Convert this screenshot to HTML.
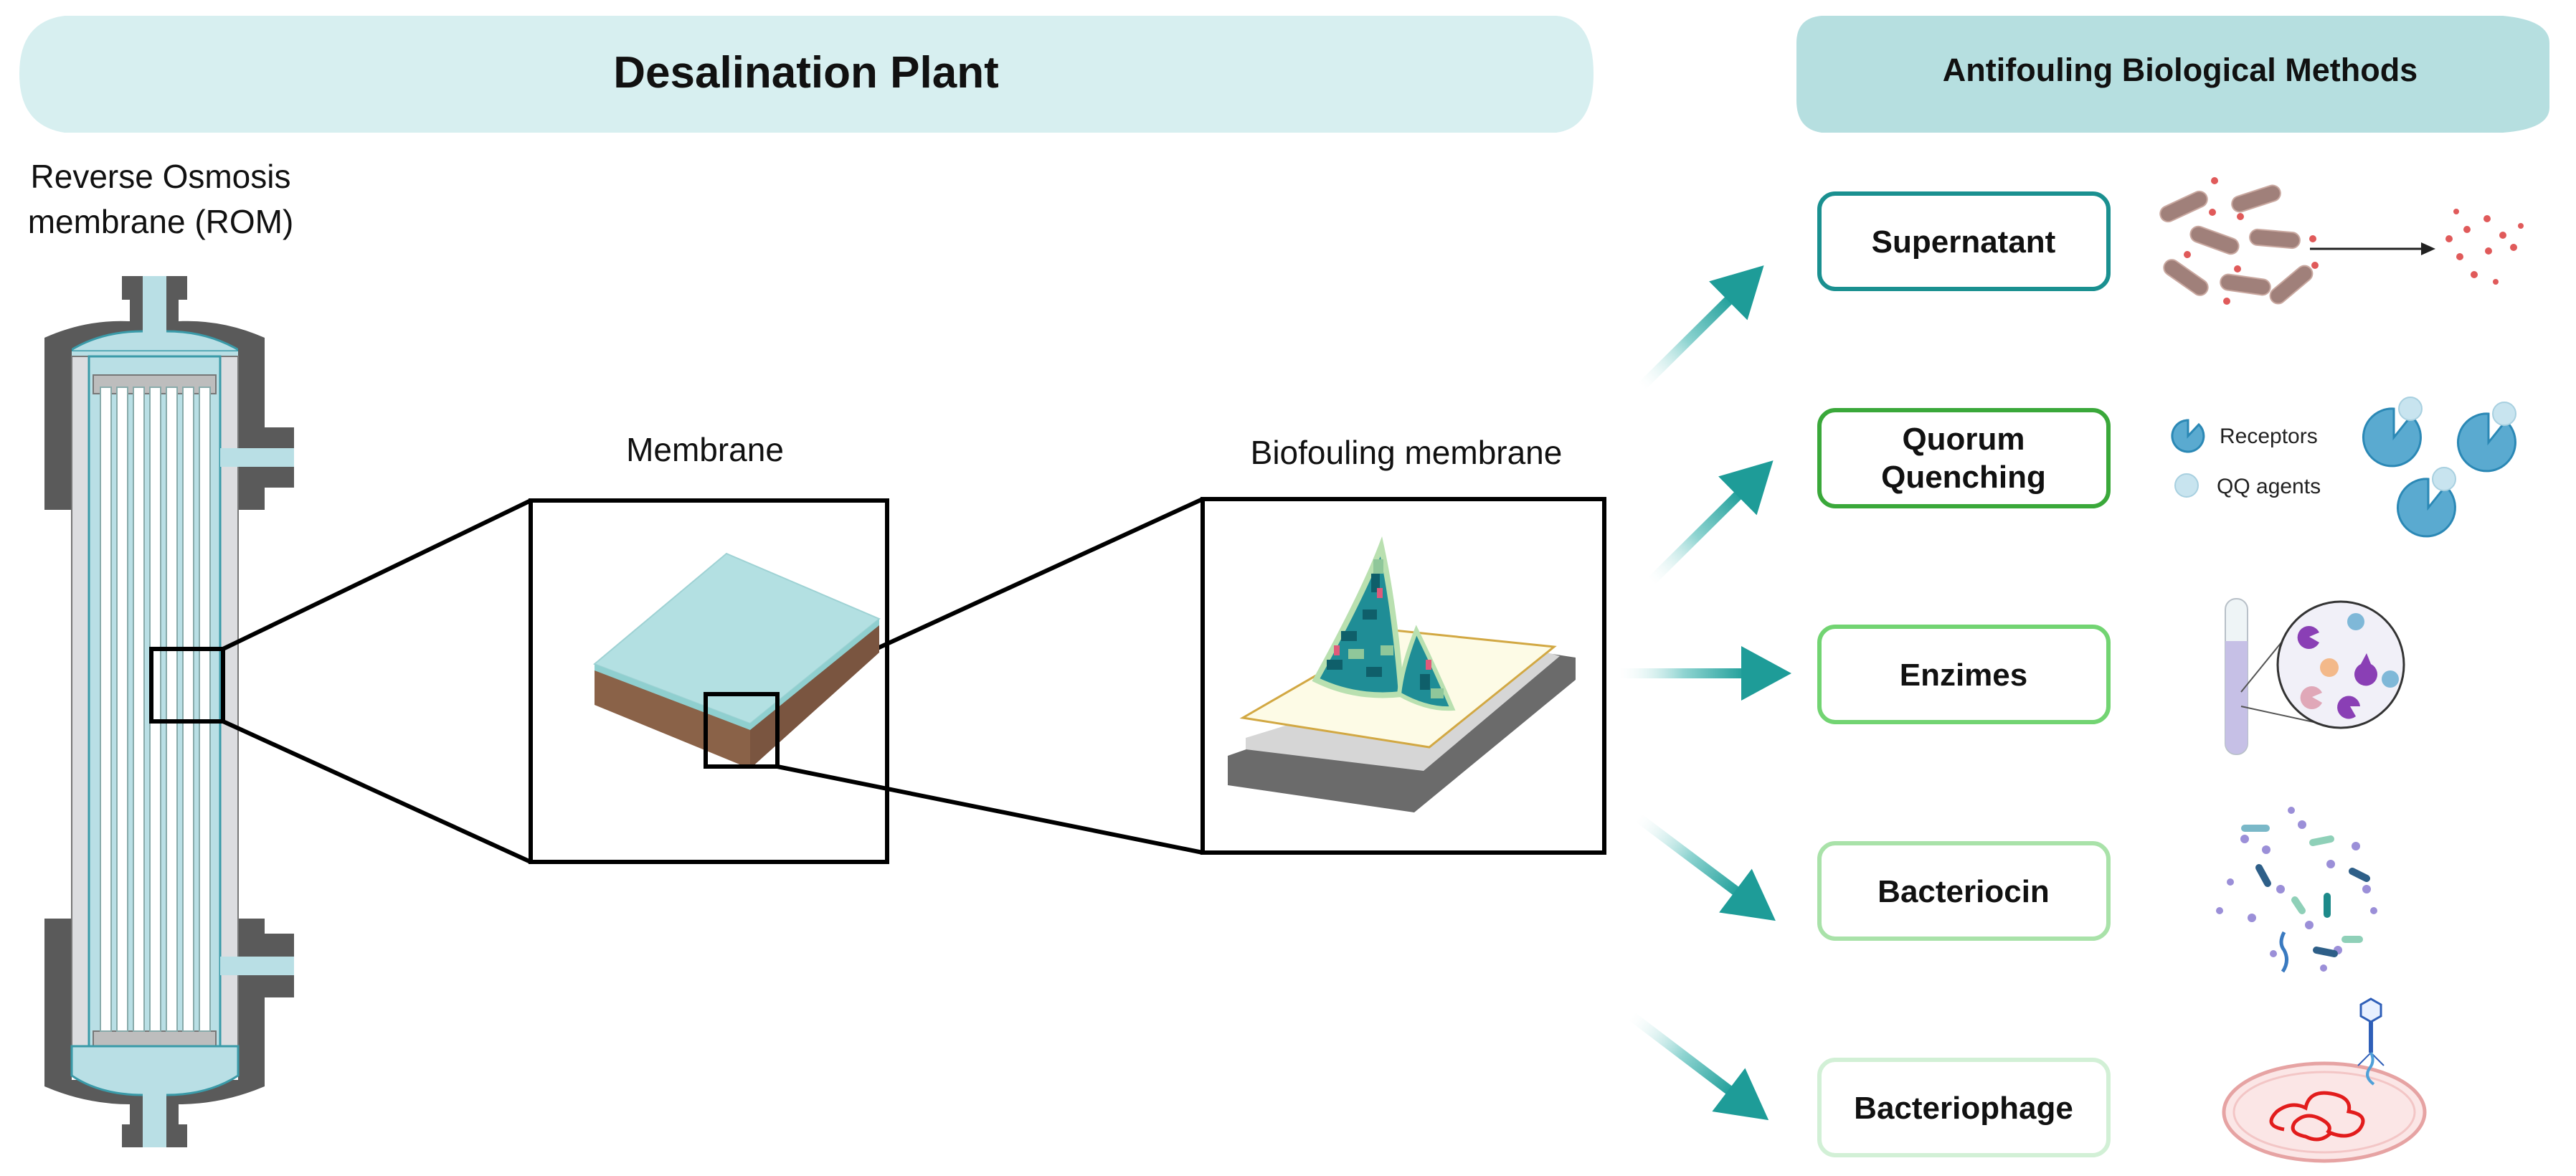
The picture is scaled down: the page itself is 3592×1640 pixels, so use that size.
<!DOCTYPE html>
<html><head><meta charset="utf-8">
<style>
html,body{margin:0;padding:0;background:#fff;}
svg{display:block;}
text{font-family:"Liberation Sans",sans-serif;}
</style></head>
<body>
<svg width="3592" height="1640" viewBox="0 0 3592 1640" xmlns="http://www.w3.org/2000/svg">
<defs>
<linearGradient id="ag" x1="0" y1="0" x2="1" y2="0">
<stop offset="0" stop-color="#ffffff" stop-opacity="0.2"/>
<stop offset="0.5" stop-color="#8fd4d1"/>
<stop offset="1" stop-color="#1a9c97"/>
</linearGradient>
<g id="arr">
<rect x="0" y="-7" width="180" height="14" fill="url(#ag)"/>
<polygon points="240,0 170,-38 170,38" fill="#1e9c98"/>
</g>
</defs>

<!-- Headers -->
<path d="M90,22 L2170,22 Q2222,26 2222,103 Q2222,178 2170,185 L90,185 Q27,175 27,103 Q27,30 90,22 Z" fill="#d7eff0"/>
<text x="1124" y="122" font-size="62" font-weight="bold" text-anchor="middle" fill="#111">Desalination Plant</text>
<path d="M2540,22 L3490,22 Q3555,28 3555,60 L3555,150 Q3555,180 3490,185 L2540,185 Q2505,180 2505,140 L2505,60 Q2505,25 2540,22 Z" fill="#b6dfe0"/>
<text x="3040" y="113" font-size="45" font-weight="bold" text-anchor="middle" fill="#111">Antifouling Biological Methods</text>

<!-- ROM label -->
<text x="224" y="262" font-size="46" text-anchor="middle" fill="#111">Reverse Osmosis</text>
<text x="224" y="325" font-size="46" text-anchor="middle" fill="#111">membrane (ROM)</text>

<!-- Column -->
<g>
<rect x="170" y="385" width="91" height="33" fill="#5a5a5a"/>
<rect x="181" y="418" width="68" height="35" fill="#5a5a5a"/>
<path d="M62,486 L62,471 Q120,445 181,448 L249,448 Q310,445 369,471 L369,486 Z" fill="#5a5a5a"/>
<path d="M96,490 Q140,462 199,462 L232,462 Q290,462 336,490 Z" fill="#b9dfe5" stroke="#3a9aa8" stroke-width="3"/>
<rect x="199" y="385" width="33" height="80" fill="#b9dfe5"/>
<rect x="62" y="486" width="38" height="225" fill="#5a5a5a"/>
<rect x="332" y="486" width="37" height="225" fill="#5a5a5a"/>
<rect x="369" y="596" width="41" height="84" fill="#5a5a5a"/>
<rect x="62" y="1281" width="38" height="225" fill="#5a5a5a"/>
<rect x="332" y="1281" width="37" height="225" fill="#5a5a5a"/>
<rect x="369" y="1302" width="41" height="89" fill="#5a5a5a"/>
<rect x="100" y="490" width="232" height="1010" fill="#b9dfe5"/>
<rect x="100" y="497" width="24" height="988" fill="#dcdde0" stroke="#777" stroke-width="2"/>
<rect x="307" y="497" width="25" height="988" fill="#dcdde0" stroke="#777" stroke-width="2"/>
<rect x="124" y="497" width="183" height="988" fill="#b9dfe5" stroke="#3a9aa8" stroke-width="3"/>
<rect x="307" y="625" width="103" height="26" fill="#b9dfe5"/>
<rect x="307" y="1334" width="103" height="26" fill="#b9dfe5"/>
<rect x="130" y="523" width="171" height="26" fill="#bdbdbd" stroke="#777" stroke-width="2"/>
<rect x="130" y="1438" width="171" height="21" fill="#bdbdbd" stroke="#777" stroke-width="2"/>
<g fill="#ffffff" stroke="#8aa" stroke-width="2">
<rect x="140" y="540" width="15" height="898"/>
<rect x="163" y="540" width="15" height="898"/>
<rect x="186" y="540" width="15" height="898"/>
<rect x="209" y="540" width="15" height="898"/>
<rect x="232" y="540" width="15" height="898"/>
<rect x="255" y="540" width="15" height="898"/>
<rect x="278" y="540" width="15" height="898"/>
</g>
<path d="M62,1506 L62,1515 Q120,1540 181,1540 L249,1540 Q310,1540 369,1515 L369,1506 Z" fill="#5a5a5a"/>
<path d="M100,1459 L332,1459 L332,1500 Q290,1527 232,1527 L199,1527 Q140,1527 100,1500 Z" fill="#b9dfe5" stroke="#3a9aa8" stroke-width="3"/>
<rect x="181" y="1538" width="68" height="30" fill="#5a5a5a"/>
<rect x="170" y="1568" width="91" height="32" fill="#5a5a5a"/>
<rect x="199" y="1520" width="33" height="80" fill="#b9dfe5"/>
<rect x="211" y="905" width="100" height="101" fill="none" stroke="#000" stroke-width="6"/>
</g>

<!-- connector lines -->
<g stroke="#000" stroke-width="6" fill="none">
<line x1="311" y1="905" x2="740" y2="698"/>
<line x1="311" y1="1006" x2="740" y2="1202"/>
<rect x="740" y="698" width="497" height="504"/>
<line x1="1084" y1="968" x2="1677" y2="696"/>
<line x1="1084" y1="1069" x2="1677" y2="1189"/>
<rect x="1677" y="696" width="560" height="493"/>
</g>

<text x="983" y="643" font-size="46" text-anchor="middle" fill="#111">Membrane</text>
<text x="1961" y="647" font-size="46" text-anchor="middle" fill="#111">Biofouling membrane</text>

<!-- membrane slab -->
<path d="M829,926 L1046,1009 L1046,1072 L829,983 Z" fill="#8a6248"/>
<path d="M1046,1009 L1226,863 L1226,910 L1046,1072 Z" fill="#7a5540"/>
<path d="M829,926 L1013,772 L1226,863 L1046,1009 Z" fill="#b3e0e2" stroke="#9fd2d4" stroke-width="2"/>
<path d="M829,926 L1046,1009 L1226,863 L1226,872 L1046,1018 L829,935 Z" fill="#8fcfcf"/>
<rect x="984" y="968" width="100" height="101" fill="none" stroke="#000" stroke-width="6"/>

<!-- biofouling slab -->
<path d="M1712,1054 L2133,907 L2197,917 L2197,948 L1972,1133 L1712,1095 Z" fill="#6b6b6b"/>
<path d="M1737,1029 L2140,905 L2175,915 L1985,1075 L1737,1045 Z" fill="#d6d6d6"/>
<path d="M1733,1001 L1944,879 L2167,902 L1993,1042 Z" fill="#fdfbe6" stroke="#d2a843" stroke-width="3"/>
<path d="M1926,762 Q1900,830 1835,948 Q1890,975 1954,968 Q1945,850 1926,762 Z" fill="#1f8d96" stroke="#b9e0b0" stroke-width="8"/>
<path d="M1975,879 Q1955,930 1951,968 Q1990,990 2025,988 Q2000,930 1975,879 Z" fill="#1f8d96" stroke="#b9e0b0" stroke-width="6"/>
<g fill="#0f5f6a">
<rect x="1870" y="880" width="22" height="14"/><rect x="1900" y="850" width="20" height="14"/><rect x="1912" y="800" width="12" height="26"/>
<rect x="1850" y="920" width="22" height="14"/><rect x="1905" y="930" width="22" height="14"/><rect x="1980" y="940" width="14" height="22"/>
</g>
<g fill="#8fc79a">
<rect x="1880" y="905" width="22" height="14"/><rect x="1925" y="900" width="18" height="14"/><rect x="1915" y="780" width="14" height="20"/><rect x="1995" y="960" width="18" height="14"/>
</g>
<g fill="#e05a7a"><rect x="1920" y="820" width="8" height="14"/><rect x="1860" y="900" width="8" height="14"/><rect x="1988" y="920" width="8" height="14"/></g>

<!-- arrows -->
<use href="#arr" transform="translate(2289,539) rotate(-44.7)"/>
<use href="#arr" transform="translate(2302,811) rotate(-44.7)"/>
<use href="#arr" transform="translate(2258,939)"/>
<use href="#arr" transform="translate(2284,1140) rotate(36.9)"/>
<use href="#arr" transform="translate(2275,1417) rotate(37.2)"/>

<!-- method boxes -->
<g fill="#fff" stroke-width="6">
<rect x="2537" y="270" width="403" height="133" rx="22" stroke="#1a9090"/>
<rect x="2537" y="572" width="403" height="134" rx="22" stroke="#3aa83a"/>
<rect x="2537" y="874" width="403" height="133" rx="22" stroke="#72d472"/>
<rect x="2537" y="1176" width="403" height="133" rx="22" stroke="#a9e2a9"/>
<rect x="2537" y="1478" width="403" height="133" rx="22" stroke="#d2f0d6"/>
</g>
<g font-size="44" font-weight="bold" text-anchor="middle" fill="#111">
<text x="2738" y="352">Supernatant</text>
<text x="2738" y="627">Quorum</text>
<text x="2738" y="680">Quenching</text>
<text x="2738" y="956">Enzimes</text>
<text x="2738" y="1258">Bacteriocin</text>
<text x="2738" y="1560">Bacteriophage</text>
</g>

<!-- supernatant illustration -->
<g fill="#a0807a" stroke="#c9a8a0" stroke-width="2">
<rect x="3010" y="277" width="70" height="22" rx="11" transform="rotate(-25 3045 288)"/>
<rect x="3111" y="266" width="70" height="22" rx="11" transform="rotate(-18 3146 277)"/>
<rect x="3053" y="324" width="70" height="22" rx="11" transform="rotate(20 3088 335)"/>
<rect x="3137" y="322" width="70" height="22" rx="11" transform="rotate(5 3172 333)"/>
<rect x="3013" y="376" width="70" height="22" rx="11" transform="rotate(35 3048 387)"/>
<rect x="3096" y="386" width="70" height="22" rx="11" transform="rotate(8 3131 397)"/>
<rect x="3160" y="386" width="70" height="22" rx="11" transform="rotate(-40 3195 397)"/>
</g>
<g fill="#e05a5a">
<circle cx="3088" cy="252" r="5"/><circle cx="3085" cy="296" r="5"/><circle cx="3124" cy="302" r="5"/><circle cx="3050" cy="355" r="5"/><circle cx="3120" cy="375" r="5"/><circle cx="3105" cy="420" r="5"/><circle cx="3225" cy="333" r="5"/><circle cx="3228" cy="370" r="5"/>
<circle cx="3415" cy="333" r="5"/><circle cx="3440" cy="320" r="5"/><circle cx="3468" cy="305" r="5"/><circle cx="3490" cy="328" r="5"/><circle cx="3430" cy="358" r="5"/><circle cx="3470" cy="350" r="5"/><circle cx="3505" cy="345" r="5"/><circle cx="3450" cy="383" r="5"/><circle cx="3425" cy="295" r="4"/><circle cx="3515" cy="315" r="4"/><circle cx="3480" cy="393" r="4"/>
</g>
<line x1="3221" y1="347" x2="3380" y2="347" stroke="#222" stroke-width="3"/>
<polygon points="3396,347 3376,338 3376,356" fill="#222"/>

<!-- quorum quenching -->
<g fill="#5aaad0" stroke="#2b88b5" stroke-width="3">
<path d="M3051,608 L3066,592 A22,22 0 1 1 3051,586 Z"/>
<path d="M3338,610 L3362,580 A40,40 0 1 1 3338,570 Z"/>
<path d="M3470,617 L3494,587 A40,40 0 1 1 3470,577 Z"/>
<path d="M3386,708 L3410,678 A40,40 0 1 1 3386,668 Z"/>
</g>
<g fill="#c8e4ef" stroke="#a8d0e0" stroke-width="2">
<circle cx="3049" cy="677" r="16"/>
<circle cx="3361" cy="570" r="16"/><circle cx="3492" cy="577" r="16"/><circle cx="3408" cy="668" r="16"/>
</g>
<text x="3095" y="618" font-size="30" fill="#222">Receptors</text>
<text x="3091" y="688" font-size="30" fill="#222">QQ agents</text>

<!-- enzymes -->
<rect x="3103" y="835" width="31" height="217" rx="15" fill="#eef4f6" stroke="#b8c0c8" stroke-width="2"/>
<path d="M3103,894 L3134,894 L3134,1036 A15,15 0 0 1 3103,1036 Z" fill="#c6c0e6"/>
<line x1="3125" y1="965" x2="3190" y2="885" stroke="#555" stroke-width="2"/>
<line x1="3125" y1="985" x2="3240" y2="1010" stroke="#555" stroke-width="2"/>
<circle cx="3264" cy="927" r="88" fill="#f1f0f8" stroke="#333" stroke-width="3"/>
<g fill="#8a3fb5">
<path d="M3220,888 L3234,882 A16,16 0 1 0 3234,896 Z"/>
<path d="M3300,911 L3306,926 A16,16 0 1 1 3292,926 Z"/>
<path d="M3277,985 L3285,999 A16,16 0 1 1 3291,985 Z"/>
</g>
<path d="M3224,972 L3238,966 A16,16 0 1 0 3238,980 Z" fill="#e0a8b8"/>
<circle cx="3248" cy="931" r="13" fill="#f3b98a"/>
<circle cx="3285" cy="867" r="12" fill="#7fb8d8"/>
<circle cx="3333" cy="947" r="12" fill="#7fb8d8"/>

<!-- bacteriocin -->
<g fill="#9b8fd8">
<circle cx="3130" cy="1170" r="6"/><circle cx="3160" cy="1185" r="6"/><circle cx="3210" cy="1150" r="6"/><circle cx="3250" cy="1205" r="6"/><circle cx="3285" cy="1180" r="6"/><circle cx="3300" cy="1240" r="6"/><circle cx="3180" cy="1240" r="6"/><circle cx="3140" cy="1280" r="6"/><circle cx="3220" cy="1290" r="6"/><circle cx="3260" cy="1325" r="6"/><circle cx="3110" cy="1230" r="5"/><circle cx="3095" cy="1270" r="5"/><circle cx="3310" cy="1270" r="5"/><circle cx="3195" cy="1130" r="5"/><circle cx="3240" cy="1350" r="5"/><circle cx="3170" cy="1330" r="5"/>
</g>
<g stroke-linecap="round" stroke-width="10">
<line x1="3130" y1="1155" x2="3160" y2="1155" stroke="#7ab8c8"/>
<line x1="3150" y1="1210" x2="3162" y2="1232" stroke="#2e5f88"/>
<line x1="3245" y1="1250" x2="3245" y2="1275" stroke="#1d8a8a"/>
<line x1="3280" y1="1215" x2="3300" y2="1225" stroke="#2e5f88"/>
<line x1="3225" y1="1175" x2="3250" y2="1170" stroke="#8fd0b8"/>
<line x1="3200" y1="1255" x2="3210" y2="1270" stroke="#8fd0b8"/>
<line x1="3270" y1="1310" x2="3290" y2="1310" stroke="#8fd0b8"/>
<line x1="3230" y1="1325" x2="3255" y2="1330" stroke="#2e5f88"/>
</g>
<path d="M3185,1300 q-8,15 0,25 q8,15 -2,30" stroke="#3a7ac0" stroke-width="5" fill="none"/>

<!-- bacteriophage -->
<ellipse cx="3241" cy="1551" rx="140" ry="68" fill="#fbe6e6" stroke="#e6a3a3" stroke-width="5"/>
<ellipse cx="3241" cy="1551" rx="126" ry="56" fill="none" stroke="#f3c6c6" stroke-width="3"/>
<path d="M3185,1575 q-30,-5 -10,-25 q20,-15 40,-5 q5,-25 35,-20 q30,5 25,25 q30,5 15,25 q-15,15 -40,5 q-15,15 -35,5 q-25,-5 -15,-20 q15,-15 35,-5 q20,10 10,20" fill="none" stroke="#e21c1c" stroke-width="5"/>
<polygon points="3306,1393 3320,1401 3320,1417 3306,1425 3292,1417 3292,1401" fill="#e8f0ff" stroke="#2f5fb8" stroke-width="3"/>
<line x1="3306" y1="1425" x2="3306" y2="1468" stroke="#2f5fb8" stroke-width="6"/>
<path d="M3306,1468 l-18,18 M3306,1468 l18,18" stroke="#2f5fb8" stroke-width="2"/>
<path d="M3306,1468 q6,12 -2,22 q-8,12 6,22" stroke="#4fa0d8" stroke-width="4" fill="none"/>
</svg>
</body></html>
